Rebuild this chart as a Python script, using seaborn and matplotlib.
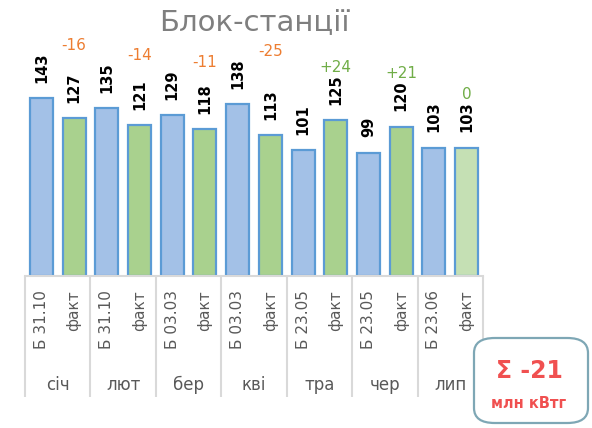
import numpy as np
import pandas as pd
import matplotlib
matplotlib.use('Agg')
import matplotlib.pyplot as plt
import seaborn as sns
from matplotlib.patches import FancyBboxPatch

# chart data
months = ['січ', 'лют', 'бер', 'кві', 'тра', 'чер', 'лип']
plan_labels = ['Б 31.10', 'Б 31.10', 'Б 03.03', 'Б 03.03', 'Б 23.05', 'Б 23.05', 'Б 23.06']
fact_label = 'факт'
plan = [143, 135, 129, 138, 101, 99, 103]
fact = [127, 121, 118, 113, 125, 120, 103]
fact_kind = ['fact', 'fact', 'fact', 'fact', 'fact', 'fact', 'partial']
title = 'Блок-станції'
unit = 'млн кВтг'

COLORS = {
    'plan': '#a3c1e7',
    'fact': '#a9d18e',
    'partial': '#c5e0b4',
    'edge': '#5b9bd5',
    'neg': '#ed7d31',
    'pos': '#70ad47',
    'grid': '#d9d9d9',
    'text': '#595959',
    'title': '#7f7f7f',
    'sum': '#f05050',
    'box': '#7ea7b5',
}

sns.set_theme(style='white')
plt.rcParams['font.family'] = ['DejaVu Sans']

# long table, one row per bar
rows = []
for i, m in enumerate(months):
    rows.append({'slot': f'{m}|plan', 'value': plan[i], 'kind': 'plan', 'label': plan_labels[i]})
    rows.append({'slot': f'{m}|fact', 'value': fact[i], 'kind': fact_kind[i], 'label': fact_label})
df = pd.DataFrame(rows)

fig = plt.figure(figsize=(5.92, 4.28), dpi=100)
ax = fig.add_axes([25 / 592, 1 - 276 / 428, 458 / 592, 249 / 428])

sns.barplot(data=df, x='slot', y='value', hue='kind', dodge=False, width=0.7,
            palette={k: COLORS[k] for k in ['plan', 'fact', 'partial']},
            saturation=1, edgecolor=COLORS['edge'], linewidth=1.6,
            legend=False, ax=ax)

ax.set_xlim(-0.5, len(df) - 0.5)
ax.set_ylim(0, 200)
ax.set_xlabel('')
ax.set_ylabel('')
ax.set_yticks([])
for s in ['top', 'right', 'left']:
    ax.spines[s].set_visible(False)
ax.spines['bottom'].set_color(COLORS['grid'])
ax.spines['bottom'].set_linewidth(1.5)

ax.set_xticks(range(len(df)))
ax.set_xticklabels(df['label'], rotation=90, va='top', ha='center',
                   fontsize=11, color=COLORS['text'])
ax.tick_params(axis='x', length=0, pad=10)

# value labels over bars
for i, v in enumerate(df['value']):
    ax.annotate(f'{v}', xy=(i, v), xytext=(0, 11), textcoords='offset points',
                rotation=90, ha='center', va='bottom', fontsize=10.5,
                fontweight='bold', color='black')

# deviation fact - plan over each fact bar
for i in range(len(months)):
    d = fact[i] - plan[i]
    txt = f'{d:+d}' if d != 0 else '0'
    ax.annotate(txt, xy=(2 * i + 1, max(plan[i], fact[i])), xytext=(0, 38),
                textcoords='offset points', ha='center', va='center', fontsize=11,
                color=COLORS['neg'] if d < 0 else COLORS['pos'])

# month group separators and labels
trans = ax.get_xaxis_transform()
ax.vlines(np.arange(-0.5, len(df), 2), -0.486, 0, transform=trans,
          color=COLORS['grid'], linewidth=1.5, clip_on=False)
for i, m in enumerate(months):
    ax.text(2 * i + 0.5, -0.438, m, transform=trans, ha='center', va='center',
            fontsize=12, color=COLORS['text'])

fig.text(254 / 592, 1 - 22 / 428, title, ha='center', va='center',
         fontsize=21, color=COLORS['title'])

# total box
box = FancyBboxPatch((474 / 592, 1 - 423 / 428), 114 / 592, 85 / 428,
                     boxstyle='round,pad=0,rounding_size=0.035',
                     transform=fig.transFigure, facecolor='white',
                     edgecolor=COLORS['box'], linewidth=1.6)
fig.patches.append(box)
total = sum(fact) - sum(plan)
fig.text(529 / 592, 1 - 371 / 428, f'Σ {total}', ha='center', va='center',
         fontsize=17, fontweight='bold', color=COLORS['sum'])
fig.text(529 / 592, 1 - 403 / 428, unit, ha='center', va='center',
         fontsize=10.5, fontweight='bold', color=COLORS['sum'])

fig.savefig('out.png', dpi=100)
